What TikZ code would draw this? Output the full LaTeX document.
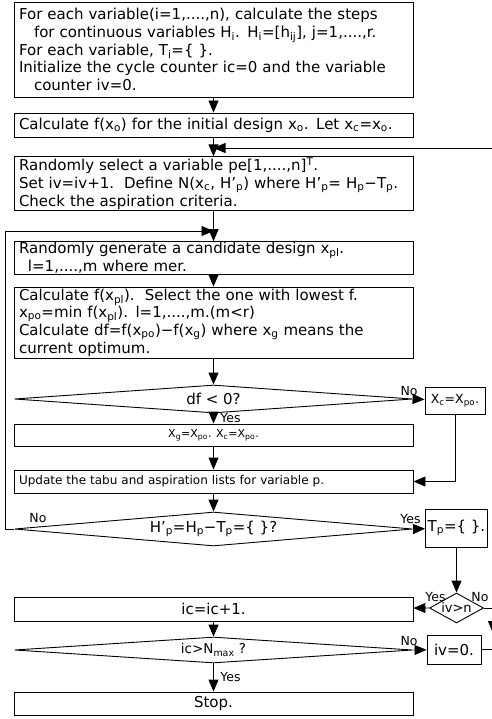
\documentclass[tikz,border=0pt]{standalone}
\usepackage{fontspec}
\setmainfont{DejaVu Sans}
\usetikzlibrary{arrows.meta,shapes.geometric}

\newcommand{\sub}[1]{\textsubscript{#1}}

\begin{document}
\begin{tikzpicture}[x=1pt, y=-1pt, line width=0.9pt,
        every node/.style={font=\fontsize{15}{17.7}\selectfont},
        box/.style={draw, minimum width=399pt, text width=389pt, inner xsep=5pt, inner ysep=1pt, align=left},
        cbox/.style={draw, minimum width=399pt, inner ysep=1pt},
        dec/.style={draw, diamond, aspect=14, inner sep=0pt, minimum width=398pt},
        sbox/.style={draw, inner sep=1pt},
        lbl/.style={font=\fontsize{12.5}{12.5}\selectfont, inner sep=1pt},
        arr/.style={-{Triangle[length=12pt,width=10pt]}}]
        \useasboundingbox (0,0) rectangle (491,719);

        \node[box, minimum height=95pt] (init) at (213.5,49.5) {For each variable(i=1,....,n), calculate the steps\\
            \hspace*{1em}for continuous variables H\sub{i}. H\sub{i}=[h\sub{ij}], j=1,....,r.\\
            For each variable, T\sub{i}=\{ \}.\\
            Initialize the cycle counter ic=0 and the variable\\
            \hspace*{1em}counter iv=0.};
        \node[box, minimum height=24pt] (calc) at (213.5,125) {Calculate f(x\sub{o}) for the initial design x\sub{o}. Let x\sub{c}=x\sub{o}.};
        \node[box, minimum height=53pt] (select) at (213.5,183.5) {Randomly select a variable pe[1,....,n]\textsuperscript{T}.\\
            Set iv=iv+1.\ \ Define N(x\sub{c}, H'\sub{p}) where H'\sub{p}= H\sub{p}−T\sub{p}.\\
            Check the aspiration criteria.};
        \node[box, minimum height=31pt] (gen) at (213.5,258) {Randomly generate a candidate design x\sub{pl}.\\
            \hspace*{0.6em}l=1,....,m where mer.};
        \node[box, minimum height=71pt] (evalf) at (213.5,322.5) {Calculate f(x\sub{pl}).\ \ Select the one with lowest f.\\
            x\sub{po}=min f(x\sub{pl}). l=1,....,m.(m<r)\\
            Calculate df=f(x\sub{po})−f(x\sub{g}) where x\sub{g} means the\\
            current optimum.};
        \node[dec, minimum height=28pt] (dfq) at (213.5,399) {df < 0?};
        \node[sbox, minimum width=60pt, minimum height=27pt, font=\fontsize{12.5}{14}\selectfont] (xc) at (455,400.5) {X\sub{c}=X\sub{po}.};
        \node[cbox, minimum height=22pt, font=\fontsize{11}{13}\selectfont] (xg) at (213.5,435) {X\sub{g}=X\sub{po}. X\sub{c}=X\sub{po}.};
        \node[box, minimum height=23pt, font=\fontsize{12}{14}\selectfont] (tabu) at (213.5,481.5) {Update the tabu and aspiration lists for variable p.};
        \node[dec, minimum height=34pt] (hp) at (213.5,529) {H'\sub{p}=H\sub{p}−T\sub{p}=\{ \}?};
        \node[sbox, minimum width=62pt, minimum height=38pt] (tp) at (456.5,528) {T\sub{p}=\{ \}.};
        \node[draw, diamond, aspect=1.9, inner sep=0pt, minimum width=54pt, minimum height=30pt, font=\fontsize{13}{13}\selectfont] (ivn) at (456.5,608) {iv>n};
        \node[cbox, minimum height=24pt] (icinc) at (213.5,609) {ic=ic+1.};
        \node[dec, minimum height=26pt, font=\fontsize{13.5}{14}\selectfont] (icq) at (213.5,650) {ic>N\sub{max} ?};
        \node[sbox, minimum width=54pt, minimum height=29pt] (iv0) at (454,649.5) {iv=0.};
        \node[cbox, minimum height=23pt] (stop) at (213.5,703.5) {Stop.};

        \coordinate (m1) at (213.5,148);
        \coordinate (m2) at (213.5,231);

        \draw[arr] (init) -- (calc);
        \draw[arr] (calc) -- (select);
        \draw[arr] (select) -- (gen);
        \draw[arr] (gen) -- (evalf);
        \draw[arr] (evalf) -- (dfq);
        \draw[arr] (dfq) -- (xg);
        \draw[arr] (dfq.east) -- (xc);
        \draw[arr] (xc.south) |- (tabu.east);
        \draw[arr] (xg) -- (tabu);
        \draw[arr] (tabu) -- (hp);
        \draw[arr] (hp.east) -- (tp);
        \draw[arr] (hp.west) -- ++(-9,0) |- (m2);
        \draw[arr] (tp) -- (ivn);
        \draw[arr] (ivn.west) -- (icinc);
        \draw[arr] (ivn.east) -- ++(9,0) -- ++(0,25);
        \draw[arr] (icinc) -- (icq);
        \draw[arr] (icq.east) -- (iv0);
        \draw[arr] (iv0.east) -- (494,649.5) |- (m1);
        \draw[arr] (icq) -- (stop);

        % branch labels
        \node[lbl, anchor=south east] (no1) at (419,397) {No};
        \node[lbl, anchor=west] (yes1) at (219,418) {Yes};
        \node[lbl, anchor=south west] (no2) at (28,524) {No};
        \node[lbl, anchor=south east] (yes2) at (422,525) {Yes};
        \node[lbl, anchor=south east] (yes3) at (447,603) {Yes};
        \node[lbl, anchor=south west] (no3) at (470,603) {No};
        \node[lbl, anchor=south east] (no4) at (419,647) {No};
        \node[lbl, anchor=west] (yes4) at (219,677) {Yes};
    \end{tikzpicture}
\end{document}
